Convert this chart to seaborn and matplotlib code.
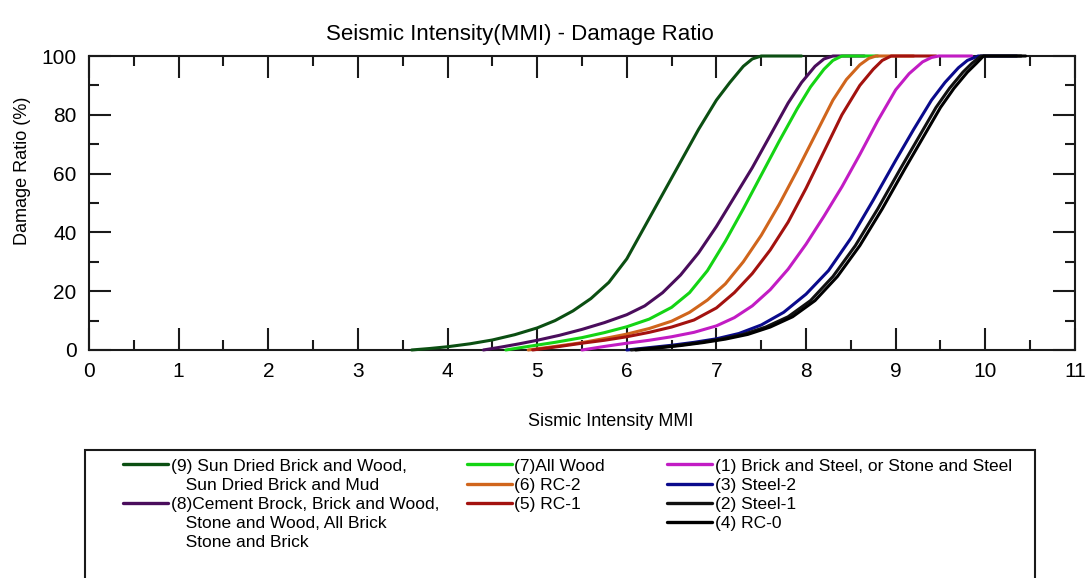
import numpy as np
import pandas as pd
import seaborn as sns
import matplotlib.pyplot as plt
from matplotlib.lines import Line2D
from matplotlib.patches import Rectangle
from matplotlib.ticker import MultipleLocator

# ------------------------------
# Data (MMI vs damage ratio %)
# ------------------------------
mmi_9 = [3.6, 3.8, 4.0, 4.25, 4.5, 4.75, 5.0, 5.2, 5.4, 5.6, 5.8, 6.0, 6.2, 6.4, 6.6, 6.8, 7.0, 7.15, 7.3, 7.4, 7.5, 7.95]
dr_9 = [0, 0.5, 1.1, 2.1, 3.4, 5.2, 7.5, 10, 13.3, 17.5, 23, 31, 42, 53, 64, 75, 85, 91, 96.5, 99, 100, 100]

mmi_8 = [4.4, 4.6, 4.8, 5.0, 5.25, 5.5, 5.75, 6.0, 6.2, 6.4, 6.6, 6.8, 7.0, 7.2, 7.4, 7.6, 7.8, 7.95, 8.1, 8.2, 8.3, 8.65]
dr_8 = [0, 1, 2.1, 3.3, 5, 7, 9.3, 12, 15, 19.5, 25.5, 33, 42, 52, 62, 73, 84, 91, 96.5, 99, 100, 100]

mmi_7 = [4.65, 4.9, 5.2, 5.5, 5.75, 6.0, 6.25, 6.5, 6.7, 6.9, 7.1, 7.3, 7.5, 7.7, 7.9, 8.05, 8.2, 8.3, 8.4, 8.8]
dr_7 = [0, 1.2, 2.6, 4.2, 5.9, 7.9, 10.5, 14.5, 19.5, 27, 37, 48, 59.5, 71, 82, 89.5, 95.5, 98.5, 100, 100]

mmi_6 = [4.9, 5.2, 5.5, 5.75, 6.0, 6.25, 6.5, 6.7, 6.9, 7.1, 7.3, 7.5, 7.7, 7.9, 8.1, 8.3, 8.45, 8.6, 8.7, 8.78, 9.2]
dr_6 = [0, 1.2, 2.5, 3.9, 5.4, 7.3, 9.8, 12.8, 17, 22.5, 30, 39, 49.5, 61, 73, 85, 92, 97, 99.2, 100, 100]

mmi_5 = [4.95, 5.25, 5.5, 5.75, 6.0, 6.25, 6.5, 6.75, 7.0, 7.2, 7.4, 7.6, 7.8, 8.0, 8.2, 8.4, 8.6, 8.75, 8.85, 8.95, 9.45]
dr_5 = [0, 1.2, 2.3, 3.3, 4.5, 6, 7.8, 10.2, 14.3, 19.5, 26, 34, 43.5, 55, 67.5, 80, 90, 95.5, 98.5, 100, 100]

mmi_1 = [5.5, 5.75, 6.0, 6.25, 6.5, 6.75, 7.0, 7.2, 7.4, 7.6, 7.8, 8.0, 8.2, 8.4, 8.6, 8.8, 9.0, 9.15, 9.3, 9.4, 9.48, 9.85]
dr_1 = [0, 1.2, 2.3, 3.3, 4.5, 6, 8.2, 11, 15, 20.5, 27.5, 36, 45.5, 55.5, 66.5, 78, 88.5, 94, 98, 99.5, 100, 100]

mmi_3 = [6.0, 6.25, 6.5, 6.75, 7.0, 7.25, 7.5, 7.75, 8.0, 8.25, 8.5, 8.75, 9.0, 9.2, 9.4, 9.55, 9.7, 9.8, 9.92, 10.35]
dr_3 = [0, 0.8, 1.6, 2.6, 3.8, 5.6, 8.5, 12.8, 19, 27, 38, 51, 64.5, 75, 85, 91, 96, 98.5, 100, 100]

mmi_2 = [6.05, 6.3, 6.55, 6.8, 7.05, 7.3, 7.55, 7.8, 8.05, 8.3, 8.55, 8.8, 9.05, 9.25, 9.45, 9.6, 9.75, 9.85, 9.95, 10.4]
dr_2 = [0, 0.7, 1.5, 2.5, 3.7, 5.3, 7.8, 11.3, 16.8, 25, 35.5, 48, 61.5, 72, 82.5, 89, 94.5, 97.5, 100, 100]

mmi_4 = [6.1, 6.35, 6.6, 6.85, 7.1, 7.35, 7.6, 7.85, 8.1, 8.35, 8.6, 8.85, 9.1, 9.3, 9.5, 9.65, 9.8, 9.9, 9.98, 10.45]
dr_4 = [0, 0.7, 1.5, 2.5, 3.7, 5.3, 7.8, 11.3, 16.8, 25, 35.5, 48, 61.5, 72, 82.5, 89, 94.5, 97.5, 100, 100]

series = ["(9)", "(8)", "(7)", "(6)", "(5)", "(1)", "(3)", "(2)", "(4)"]
mmi_all = [mmi_9, mmi_8, mmi_7, mmi_6, mmi_5, mmi_1, mmi_3, mmi_2, mmi_4]
dr_all = [dr_9, dr_8, dr_7, dr_6, dr_5, dr_1, dr_3, dr_2, dr_4]

colors = {
    "(9)": "#0b4f12", "(8)": "#4a0d5c", "(7)": "#14d414", "(6)": "#d0651c",
    "(5)": "#a3120f", "(1)": "#c21cc4", "(3)": "#0a0a8c", "(2)": "#111111", "(4)": "#000000",
}

df = pd.concat(
    [pd.DataFrame({"MMI": x, "Damage": y, "Type": s}) for s, x, y in zip(series, mmi_all, dr_all)],
    ignore_index=True,
)

# ------------------------------
# Style
# ------------------------------
sns.set_style("ticks")
plt.rcParams['font.family'] = ['Liberation Sans', 'DejaVu Sans']
plt.rcParams['text.color'] = 'black'
plt.rcParams['xtick.color'] = 'black'
plt.rcParams['ytick.color'] = 'black'

fig = plt.figure(figsize=(10.88, 5.78), dpi=100)
ax = fig.add_axes([0.0818, 0.3945, 0.9062, 0.5086])

sns.lineplot(data=df, x="MMI", y="Damage", hue="Type", palette=colors,
             estimator=None, sort=False, legend=False, linewidth=2.2, ax=ax)
for ln in ax.lines:
    ln.set_clip_on(False)
    ln.set_zorder(3)
    ln.set_solid_joinstyle("round")

ax.set_xlim(0, 11)
ax.set_ylim(0, 100)
ax.xaxis.set_major_locator(MultipleLocator(1))
ax.xaxis.set_minor_locator(MultipleLocator(0.5))
ax.yaxis.set_major_locator(MultipleLocator(20))
ax.yaxis.set_minor_locator(MultipleLocator(10))
ax.tick_params(which="both", direction="in", top=True, right=True, width=1.5, color="#1a1a1a")
ax.tick_params(which="major", length=15.5, labelsize=15, pad=9)
ax.tick_params(which="minor", length=7.5)
for sp in ax.spines.values():
    sp.set_linewidth(1.5)
    sp.set_color("#1a1a1a")
    sp.set_zorder(2.5)

ax.set_xlabel("")
ax.set_ylabel("")
fig.text(0.478, 0.94, "Seismic Intensity(MMI) - Damage Ratio", ha="center", va="center", fontsize=16)
fig.text(0.561, 0.27, "Sismic Intensity MMI", ha="center", va="center", fontsize=13)
fig.text(0.021, 0.704, "Damage Ratio (%)", ha="center", va="center", rotation=90, fontsize=13)

# ------------------------------
# Legend (three columns inside one box)
# ------------------------------
fig.patches.append(Rectangle((0.078, -0.02), 0.873, 0.2415, transform=fig.transFigure,
                             fill=False, edgecolor="#1a1a1a", linewidth=1.5))

def blank():
    return Line2D([], [], color="none")

def entry(key):
    return Line2D([], [], color=colors[key], linewidth=2.4)

col1 = [(entry("(9)"), "(9) Sun Dried Brick and Wood,"),
        (blank(), "   Sun Dried Brick and Mud"),
        (entry("(8)"), "(8)Cement Brock, Brick and Wood,"),
        (blank(), "   Stone and Wood, All Brick"),
        (blank(), "   Stone and Brick")]
col2 = [(entry("(7)"), "(7)All Wood"),
        (entry("(6)"), "(6) RC-2"),
        (entry("(5)"), "(5) RC-1")]
col3 = [(entry("(1)"), "(1) Brick and Steel, or Stone and Steel"),
        (entry("(3)"), "(3) Steel-2"),
        (entry("(2)"), "(2) Steel-1"),
        (entry("(4)"), "(4) RC-0")]

for col, x0 in [(col1, 0.113), (col2, 0.429), (col3, 0.613)]:
    leg = fig.legend([h for h, _ in col], [t for _, t in col], loc="upper left",
                     bbox_to_anchor=(x0, 0.207), frameon=False, fontsize=12.5,
                     handlelength=2.6, handletextpad=0.15, labelspacing=0.23,
                     borderpad=0, borderaxespad=0)

plt.savefig("out.png", dpi=100)
